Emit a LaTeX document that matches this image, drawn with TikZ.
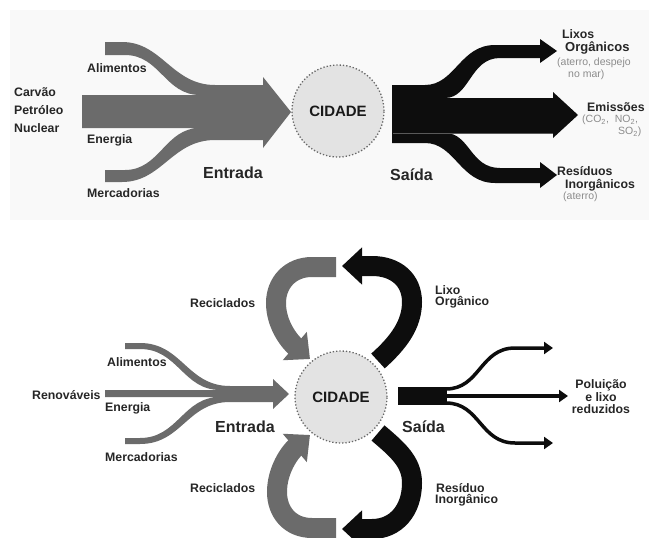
\documentclass[tikz,border=0pt]{standalone}
\usepackage{fontspec}
\setmainfont{Liberation Sans}
\usetikzlibrary{arrows.meta}
\begin{document}
\begin{tikzpicture}[x=1pt,y=-1pt,
  lbl/.style={font=\fontsize{12.3}{12.3}\selectfont\bfseries, inner sep=0pt, anchor=west, text=black!85},
  biglbl/.style={font=\fontsize{16}{16}\selectfont\bfseries, inner sep=0pt, anchor=west, text=black!85},
  sublbl/.style={font=\fontsize{10.5}{10.5}\selectfont, inner sep=0pt, anchor=west, text=black!45},
  city/.style={circle, fill=black!11, draw=black!60, dotted, line width=1.3pt, minimum size=92pt, inner sep=0pt, font=\fontsize{15}{15}\selectfont\bfseries, text=black!90},
  grayflow/.style={fill=black!58},
  blackflow/.style={fill=black!95},
  thinout/.style={draw=black!95, line width=3.5pt, -{Triangle[length=9pt,width=12pt]}},
  loopgray/.style={draw=black!58, line width=20pt, -{Triangle[length=20pt,width=36pt]}},
  loopblack/.style={draw=black!95, line width=20pt, -{Triangle[length=20pt,width=36pt]}}
]
\useasboundingbox (0,0) rectangle (649,538);
\fill[black!2.5] (10,10) rectangle (649,220);

% ---------- top panel ----------
\fill[grayflow] (105,42) -- (122,42) .. controls (162,42) and (172,85) .. (215,85) -- (263,85) -- (263,77) -- (291,112) -- (263,148) -- (263,140) -- (215,140) .. controls (172,140) and (162,182) .. (122,182) -- (105,182) -- (105,170) -- (125,170) .. controls (160,170) and (165,128) .. (200,128) -- (82,128) -- (82,95) -- (200,95) .. controls (165,95) and (160,55) .. (125,55) -- (105,55) -- cycle;

\fill[blackflow] (392,85) -- (425,85) .. controls (455,85) and (460,45) .. (495,45) -- (540,45) -- (540,39) -- (557,51) -- (540,63) -- (540,58) -- (500,58) .. controls (470,58) and (470,98) .. (445,98) -- (553,98) -- (553,92) -- (578,115) -- (553,138) -- (553,133) -- (445,133) .. controls (470,133) and (470,168) .. (500,168) -- (540,168) -- (540,162) -- (557,175) -- (540,188) -- (540,183) -- (495,183) .. controls (460,183) and (455,143) .. (425,143) -- (392,143) -- cycle;
\draw[black!65, line width=0.6pt] (393,133) -- (553,133);

\node[city] (c1) at (338,111) {CIDADE};

\node[lbl] (carvao) at (14,92) {Carvão};
\node[lbl] (petroleo) at (14,110) {Petróleo};
\node[lbl] (nuclear) at (14,128) {Nuclear};
\node[lbl] (alim1) at (87,68) {Alimentos};
\node[lbl] (ener1) at (87,140) {Energia};
\node[lbl] (merc1) at (87,193) {Mercadorias};
\node[biglbl] (entr1) at (203,173) {Entrada};
\node[biglbl] (said1) at (390,175) {Saída};
\node[lbl] (lixos) at (562,34) {Lixos};
\node[lbl, font=\fontsize{13}{13}\selectfont\bfseries] (organ) at (565,48) {Orgânicos};
\node[sublbl] (aterro1) at (557,63) {(aterro, despejo};
\node[sublbl] (nomar) at (568,75) {no mar)};
\node[lbl] (emis) at (587,107) {Emissões};
\node[sublbl] (co2) at (582,120) {(CO\textsubscript{2}, \ NO\textsubscript{2},};
\node[sublbl] (so2) at (618,132) {SO\textsubscript{2})};
\node[lbl] (resid) at (557,171) {Resíduos};
\node[lbl] (inorg) at (565,185) {Inorgânicos};
\node[sublbl] (aterro2) at (563,197) {(aterro)};

% ---------- bottom panel ----------
\fill[grayflow] (125,343) -- (140,343) .. controls (182,343) and (187,386) .. (230,386) -- (273,386) -- (273,379) -- (289,394) -- (273,409) -- (273,402) -- (230,402) .. controls (187,402) and (182,444) .. (140,444) -- (125,444) -- (125,438) -- (140,438) .. controls (178,438) and (183,397) .. (220,397) -- (105,397) -- (105,390) -- (220,390) .. controls (183,390) and (178,349) .. (140,349) -- (125,349) -- cycle;

\draw[loopgray] (336,267) -- (312,267) .. controls (290,267) and (276,283) .. (276,303) .. controls (276,325) and (290,342) .. (310,359);
\draw[loopblack] (378,361) .. controls (398,343) and (412,325) .. (412,302) .. controls (412,280) and (396,266) .. (372,266) -- (342,266);
\draw[loopgray] (336,528) -- (312,528) .. controls (290,528) and (277,512) .. (277,492) .. controls (277,470) and (290,452) .. (310,435);
\draw[loopblack] (378,433) .. controls (398,450) and (412,462) .. (412,483) .. controls (412,510) and (396,529) .. (372,529) -- (342,529);

\node[city] (c2) at (341,397) {CIDADE};

\fill[blackflow] (398,387) rectangle (447,405);
\coordinate (o1) at (553,348);
\coordinate (o2) at (568,396);
\coordinate (o3) at (553,443);
\draw[thinout] (446,389) .. controls (480,389) and (480,348) .. (515,348) -- (o1);
\draw[thinout] (446,396) -- (o2);
\draw[thinout] (446,403) .. controls (480,403) and (480,443) .. (515,443) -- (o3);

\node[lbl] (recic1) at (190,303) {Reciclados};
\node[lbl] (lixo) at (435,290) {Lixo};
\node[lbl] (organ2) at (435,302) {Orgânico};
\node[lbl] (alim2) at (107,362) {Alimentos};
\node[lbl] (renov) at (32,395) {Renováveis};
\node[lbl] (ener2) at (105,408) {Energia};
\node[lbl] (merc2) at (105,457) {Mercadorias};
\node[biglbl] (entr2) at (215,427) {Entrada};
\node[biglbl] (said2) at (402,427) {Saída};
\node[lbl, anchor=center] (polu) at (601,385) {Poluição};
\node[lbl, anchor=center] (elixo) at (601,397) {e lixo};
\node[lbl, anchor=center] (redu) at (601,409) {reduzidos};
\node[lbl] (recic2) at (190,488) {Reciclados};
\node[lbl] (resid2) at (436,488) {Resíduo};
\node[lbl] (inorg2) at (435,500) {Inorgânico};
\end{tikzpicture}
\end{document}
